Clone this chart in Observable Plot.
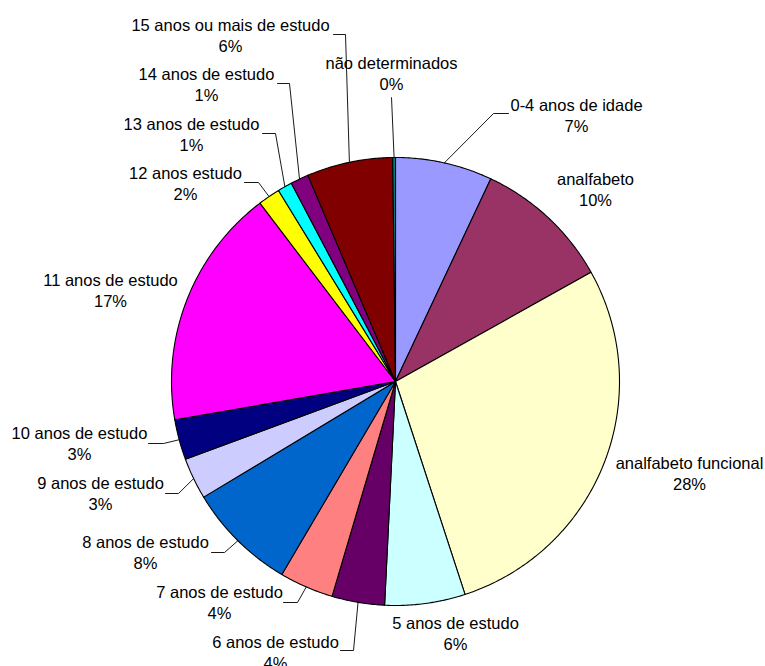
<!DOCTYPE html>
<html>
<head>
<meta charset="utf-8">
<script src="https://cdn.jsdelivr.net/npm/d3@7"></script>
<script src="https://cdn.jsdelivr.net/npm/@observablehq/plot@0.6"></script>
<style>
  html, body { margin: 0; padding: 0; background: #fff; }
</style>
</head>
<body>
<div id="chart"></div>
<script>
// ---- data ----
const categories = [
  "0-4 anos de idade", "analfabeto", "analfabeto funcional",
  "5 anos de estudo", "6 anos de estudo", "7 anos de estudo",
  "8 anos de estudo", "9 anos de estudo", "10 anos de estudo",
  "11 anos de estudo", "12 anos estudo", "13 anos de estudo",
  "14 anos de estudo", "15 anos ou mais de estudo", "não determinados"
];
const values = [7.0, 9.9, 28.1, 5.8, 3.8, 3.9, 7.9, 3.0, 2.9, 17.4, 1.6, 1.05, 1.3, 6.2, 0.2];
const colors = [
  "#9999FF", "#993366", "#FFFFCC", "#CCFFFF", "#660066", "#FF8080",
  "#0066CC", "#CCCCFF", "#000080", "#FF00FF", "#FFFF00", "#00FFFF",
  "#800080", "#800000", "#008080"
];

// ---- layout (label placement, separate from data) ----
const W = 765, H = 666;
const CX = 395, CY = 381, R = 224;
const LINE = 21;
// label centre x, first-line y
const labelX = [576, 595, 689, 455, 275, 219, 145, 100, 79, 110, 185, 191, 206, 230, 391];
const labelY = [105, 179, 463, 623, 642, 592, 542, 483, 433, 280, 173, 124, 74, 25, 63];
// leader start / elbow (null = no leader)
const leaderStart = [[508,113], null, null, null, [340,650], [283,602], [211,552], [165,493], [148,443], null, [244,182], [262,133], [277,83], [333,34], [391,97]];
const leaderElbow = [[493,113], null, null, null, [353,650], [297,602], [224,552], [178,493], [163,443], null, [258,182], [275,133], [289,83], [345,34], [391,97]];

const total = d3.sum(values);
const pct = values.map(v => Math.round(v / total * 100) + "%");

// slice polygons
const slicePts = [];
let acc = 0;
values.forEach((v, i) => {
  const a0 = acc / total * 2 * Math.PI;
  acc += v;
  const a1 = acc / total * 2 * Math.PI;
  const n = Math.max(2, Math.ceil((a1 - a0) / (Math.PI / 360)));
  slicePts.push({key: i, x: CX, y: CY, fill: colors[i]});
  for (let k = 0; k <= n; k++) {
    const a = a0 + (a1 - a0) * k / n;
    slicePts.push({key: i, x: CX + R * Math.sin(a), y: CY - R * Math.cos(a), fill: colors[i]});
  }
});

// leader lines: start -> elbow -> arc midpoint
const leaderPts = [];
acc = 0;
values.forEach((v, i) => {
  const am = (acc + v / 2) / total * 2 * Math.PI;
  acc += v;
  if (!leaderStart[i]) return;
  leaderPts.push({key: i, x: leaderStart[i][0], y: leaderStart[i][1]});
  leaderPts.push({key: i, x: leaderElbow[i][0], y: leaderElbow[i][1]});
  leaderPts.push({key: i, x: CX + R * Math.sin(am), y: CY - R * Math.cos(am)});
});

const labels = categories.map((c, i) => ({name: c, pct: pct[i], x: labelX[i], y: labelY[i]}));

const chart = Plot.plot({
  width: W,
  height: H,
  margin: 0,
  x: {type: "linear", domain: [0, W], range: [0, W], axis: null},
  y: {type: "linear", domain: [0, H], range: [0, H], axis: null},
  color: {type: "identity"},
  style: {fontFamily: "'Liberation Sans', Arial, sans-serif", fontSize: "16.5px", background: "#fff"},
  marks: [
    Plot.line(slicePts, {x: "x", y: "y", z: "key", fill: "fill", stroke: "#000", strokeWidth: 1.1, curve: "linear-closed"}),
    Plot.line(leaderPts, {x: "x", y: "y", z: "key", stroke: "#000", strokeWidth: 0.9}),
    Plot.text(labels, {x: "x", y: "y", text: "name", fill: "#000", fontSize: 16.5, textAnchor: "middle"}),
    Plot.text(labels, {x: "x", y: d => d.y + LINE, text: "pct", fill: "#000", fontSize: 16.5, textAnchor: "middle"})
  ]
});
document.getElementById("chart").appendChild(chart);
</script>
</body>
</html>
